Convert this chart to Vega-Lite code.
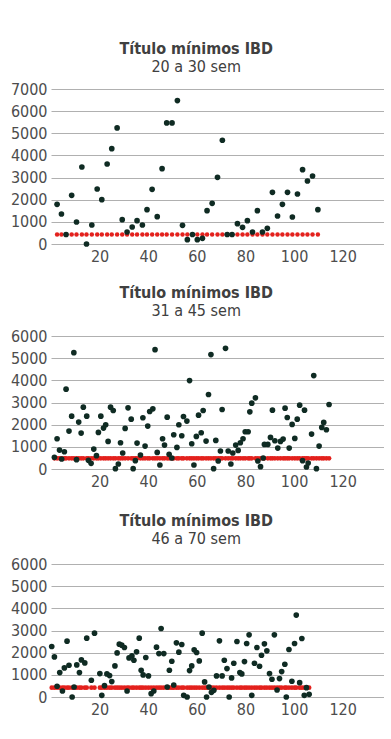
{
  "$schema": "https://vega.github.io/schema/vega-lite/v6.json",
  "padding": {"left": 10, "top": 41, "right": 0, "bottom": 0},
  "background": "#ffffff",
  "spacing": 21,
  "datasets": {
    "d1": [
      {"x":2.5,"y":1792,"m":430},{"x":4.3,"y":1355,"m":430},{"x":6.2,"y":430,"m":430},{"x":8.5,"y":2199,"m":430},{"x":10.5,"y":994,"m":430},
      {"x":12.7,"y":3479,"m":430},{"x":14.6,"y":0,"m":430},{"x":16.8,"y":858,"m":430},{"x":19,"y":2485,"m":430},{"x":20.9,"y":2003,"m":430},
      {"x":23.1,"y":3614,"m":430},{"x":25,"y":4307,"m":430},{"x":27.2,"y":5241,"m":430},{"x":29.3,"y":1099,"m":430},{"x":31.3,"y":542,"m":430},
      {"x":33.4,"y":768,"m":430},{"x":35.4,"y":1054,"m":430},{"x":37.6,"y":858,"m":430},{"x":39.5,"y":1551,"m":430},{"x":41.6,"y":2470,"m":430},
      {"x":43.7,"y":1235,"m":430},{"x":45.7,"y":3404,"m":430},{"x":47.6,"y":5467,"m":430},{"x":49.8,"y":5467,"m":430},{"x":52,"y":6476,"m":430},
      {"x":54.1,"y":843,"m":430},{"x":56.1,"y":196,"m":430},{"x":58.2,"y":430,"m":430},{"x":60.2,"y":196,"m":430},{"x":62.3,"y":256,"m":430},
      {"x":64.2,"y":1506,"m":430},{"x":66.3,"y":1837,"m":430},{"x":68.5,"y":3012,"m":430},{"x":70.5,"y":4684,"m":430},{"x":72.5,"y":430,"m":430},
      {"x":74.5,"y":430,"m":430},{"x":76.7,"y":919,"m":430},{"x":78.8,"y":753,"m":430},{"x":80.8,"y":1054,"m":430},{"x":82.9,"y":542,"m":430},
      {"x":84.9,"y":1506,"m":430},{"x":87,"y":542,"m":430},{"x":89,"y":708,"m":430},{"x":91.1,"y":2334,"m":430},{"x":93.2,"y":1265,"m":430},
      {"x":95.2,"y":1792,"m":430},{"x":97.3,"y":2334,"m":430},{"x":99.3,"y":1220,"m":430},{"x":101.4,"y":2259,"m":430},{"x":103.5,"y":3358,"m":430},
      {"x":105.5,"y":2846,"m":430},{"x":107.6,"y":3072,"m":430},{"x":109.8,"y":1551,"m":430}
    ],
    "d2": [
      {"x":1.4,"y":525,"m":480},{"x":2.5,"y":1365,"m":480},{"x":3.5,"y":855,"m":480},{"x":4.4,"y":450,"m":480},{"x":5.5,"y":780,"m":480},
      {"x":6.2,"y":3600,"m":480},{"x":7.4,"y":1710,"m":480},{"x":8.5,"y":2385,"m":480},{"x":9.4,"y":5250,"m":480},{"x":10.5,"y":420,"m":480},
      {"x":11.4,"y":2115,"m":480},{"x":12.4,"y":1620,"m":480},{"x":13.3,"y":2790,"m":480},{"x":14.7,"y":2385,"m":480},{"x":15.4,"y":390,"m":480},
      {"x":16.5,"y":255,"m":480},{"x":17.6,"y":900,"m":480},{"x":18.7,"y":600,"m":480},{"x":19.5,"y":1650,"m":480},{"x":20.5,"y":2385,"m":480},
      {"x":21.6,"y":1845,"m":480},{"x":22.5,"y":1995,"m":480},{"x":23.5,"y":1245,"m":480},{"x":24.5,"y":2790,"m":480},{"x":25.6,"y":2640,"m":480},
      {"x":26.5,"y":15,"m":480},{"x":27.7,"y":225,"m":480},{"x":28.6,"y":1185,"m":480},{"x":29.5,"y":720,"m":480},{"x":30.5,"y":1830,"m":480},
      {"x":31.7,"y":2760,"m":480},{"x":33,"y":2250,"m":480},{"x":33.8,"y":15,"m":480},{"x":34.7,"y":375,"m":480},{"x":35.4,"y":1170,"m":480},
      {"x":36.8,"y":630,"m":480},{"x":37.8,"y":2310,"m":480},{"x":38.7,"y":1035,"m":480},{"x":39.8,"y":1935,"m":480},{"x":40.6,"y":2595,"m":480},
      {"x":41.9,"y":2715,"m":480},{"x":42.8,"y":5385,"m":480},{"x":43.7,"y":750,"m":480},{"x":44.8,"y":180,"m":480},{"x":45.9,"y":1365,"m":480},
      {"x":46.7,"y":1080,"m":480},{"x":47.8,"y":2340,"m":480},{"x":48.6,"y":660,"m":480},{"x":49.7,"y":495,"m":480},{"x":50.5,"y":1545,"m":480},
      {"x":51.8,"y":975,"m":480},{"x":52.6,"y":1995,"m":480},{"x":53.8,"y":1500,"m":480},{"x":54.5,"y":2370,"m":480},{"x":55.9,"y":2160,"m":480},
      {"x":57,"y":3990,"m":480},{"x":57.9,"y":1140,"m":480},{"x":58.8,"y":180,"m":480},{"x":59.8,"y":1470,"m":480},{"x":60.7,"y":2430,"m":480},
      {"x":61.8,"y":1635,"m":480},{"x":62.6,"y":2640,"m":480},{"x":63.8,"y":1260,"m":480},{"x":64.8,"y":3360,"m":480},{"x":65.8,"y":5160,"m":480},
      {"x":66.9,"y":15,"m":480},{"x":67.8,"y":1290,"m":480},{"x":68.8,"y":360,"m":480},{"x":69.7,"y":810,"m":480},{"x":70.4,"y":2685,"m":480},
      {"x":71.8,"y":5445,"m":480},{"x":72.9,"y":810,"m":480},{"x":74,"y":225,"m":480},{"x":74.8,"y":720,"m":480},{"x":76,"y":1080,"m":480},
      {"x":77,"y":840,"m":480},{"x":77.9,"y":1185,"m":480},{"x":79,"y":1365,"m":480},{"x":79.9,"y":1680,"m":480},{"x":81.1,"y":1680,"m":480},
      {"x":81.8,"y":2580,"m":480},{"x":82.6,"y":2970,"m":480},{"x":84.1,"y":3210,"m":480},{"x":85.1,"y":360,"m":480},{"x":86.2,"y":105,"m":480},
      {"x":87.3,"y":495,"m":480},{"x":87.8,"y":1110,"m":480},{"x":89.2,"y":1110,"m":480},{"x":90.3,"y":1425,"m":480},{"x":91.1,"y":2655,"m":480},
      {"x":92.1,"y":1275,"m":480},{"x":93.3,"y":945,"m":480},{"x":94.4,"y":1245,"m":480},{"x":95.5,"y":1350,"m":480},{"x":96.3,"y":2745,"m":480},
      {"x":97.2,"y":2325,"m":480},{"x":98,"y":945,"m":480},{"x":99.2,"y":2010,"m":480},{"x":100.3,"y":1380,"m":480},{"x":101.3,"y":2250,"m":480},
      {"x":102.3,"y":2880,"m":480},{"x":103.5,"y":375,"m":480},{"x":104.3,"y":2655,"m":480},{"x":105.1,"y":90,"m":480},{"x":105.8,"y":270,"m":480},
      {"x":107.2,"y":1575,"m":480},{"x":108.1,"y":4215,"m":480},{"x":109.2,"y":15,"m":480},{"x":110.3,"y":1035,"m":480},{"x":111.4,"y":1875,"m":480},
      {"x":112.2,"y":2100,"m":480},{"x":113.3,"y":1770,"m":480},{"x":114.4,"y":2910,"m":480}
    ],
    "d3": [
      {"x":0.3,"y":2277,"m":420},{"x":1.4,"y":1810,"m":420},{"x":2.5,"y":483,"m":420},{"x":3.6,"y":1101,"m":420},{"x":4.7,"y":271,"m":420},
      {"x":5.5,"y":1312,"m":420},{"x":6.6,"y":2518,"m":420},{"x":7.4,"y":1433,"m":420},{"x":8.7,"y":0,"m":420},{"x":9.5,"y":452,"m":420},
      {"x":10.6,"y":1448,"m":420},{"x":11.7,"y":1101,"m":420},{"x":12.5,"y":1674,"m":420},{"x":13.9,"y":1538,"m":420},{"x":14.7,"y":2654,"m":420},
      {"x":16.6,"y":754,"m":420},{"x":17.9,"y":2880,"m":420},{"x":20.1,"y":1056,"m":420},{"x":20.9,"y":75,"m":420},{"x":22,"y":513,"m":420},
      {"x":23,"y":1040,"m":420},{"x":24.1,"y":965,"m":420},{"x":25,"y":694,"m":420},{"x":26.3,"y":1402,"m":420},{"x":27.2,"y":1990,"m":420},
      {"x":28.1,"y":2383,"m":420},{"x":29.1,"y":2337,"m":420},{"x":30.2,"y":2232,"m":420},{"x":31.3,"y":271,"m":420},{"x":32.1,"y":1764,"m":420},
      {"x":33.3,"y":1855,"m":420},{"x":34.1,"y":1659,"m":420},{"x":35.2,"y":2036,"m":420},{"x":36.3,"y":2654,"m":420},{"x":37.1,"y":1206,"m":420},
      {"x":37.9,"y":995,"m":420},{"x":39,"y":1780,"m":420},{"x":40.1,"y":950,"m":420},{"x":41.2,"y":151,"m":420},{"x":42.3,"y":271,"m":420},
      {"x":43.4,"y":2247,"m":420},{"x":44.4,"y":1960,"m":420},{"x":45.3,"y":3091,"m":420},{"x":46.4,"y":1960,"m":420},{"x":47.8,"y":452,"m":420},
      {"x":48.7,"y":1206,"m":420},{"x":49.7,"y":1614,"m":420},{"x":50.5,"y":543,"m":420},{"x":51.6,"y":2443,"m":420},{"x":52.6,"y":2021,"m":420},
      {"x":53.8,"y":2368,"m":420},{"x":54.6,"y":75,"m":420},{"x":56,"y":0,"m":420},{"x":57,"y":1191,"m":420},{"x":57.9,"y":1402,"m":420},
      {"x":58.9,"y":2126,"m":420},{"x":59.9,"y":2006,"m":420},{"x":61,"y":1629,"m":420},{"x":62.2,"y":2880,"m":420},{"x":63.2,"y":679,"m":420},
      {"x":64,"y":0,"m":420},{"x":65,"y":452,"m":420},{"x":66,"y":211,"m":420},{"x":67,"y":302,"m":420},{"x":68.1,"y":950,"m":420},
      {"x":69.3,"y":2533,"m":420},{"x":70.4,"y":950,"m":420},{"x":71.3,"y":1659,"m":420},{"x":72.4,"y":1282,"m":420},{"x":73.3,"y":0,"m":420},
      {"x":74.3,"y":860,"m":420},{"x":75.2,"y":1523,"m":420},{"x":76.5,"y":2503,"m":420},{"x":77.7,"y":1101,"m":420},{"x":78.5,"y":1040,"m":420},
      {"x":79.6,"y":1599,"m":420},{"x":80.5,"y":2413,"m":420},{"x":81.5,"y":2805,"m":420},{"x":82.6,"y":75,"m":420},{"x":83.7,"y":1523,"m":420},
      {"x":84.7,"y":2232,"m":420},{"x":85.8,"y":1387,"m":420},{"x":86.6,"y":1885,"m":420},{"x":87.8,"y":2398,"m":420},{"x":88.8,"y":2081,"m":420},
      {"x":89.9,"y":1056,"m":420},{"x":90.9,"y":799,"m":420},{"x":91.9,"y":2805,"m":420},{"x":93,"y":317,"m":420},{"x":94,"y":829,"m":420},
      {"x":94.9,"y":1146,"m":420},{"x":96.2,"y":1478,"m":420},{"x":96.8,"y":0,"m":420},{"x":97.9,"y":2141,"m":420},{"x":99.1,"y":709,"m":420},
      {"x":100.2,"y":2413,"m":420},{"x":100.9,"y":3695,"m":420},{"x":102.3,"y":648,"m":420},{"x":103.2,"y":2639,"m":420},{"x":104.2,"y":75,"m":420},
      {"x":105.1,"y":422,"m":420},{"x":106.2,"y":121,"m":420}
    ]
  },
  "vconcat": [
    {
      "width": 333, "height": 155,
      "data": {"name": "d1"},
      "title": {"text": "Título mínimos IBD", "subtitle": "20 a 30 sem", "offset": 6},
      "encoding": {"x": {"field": "x", "type": "quantitative", "scale": {"domain": [0, 137]}, "axis": {"values": [20,40,60,80,100,120]}}},
      "layer": [
        {"mark": {"type": "circle", "size": 20, "opacity": 1, "color": "#e3211d"},
         "encoding": {"y": {"field": "m", "type": "quantitative", "scale": {"domain": [0, 7000]}, "axis": {"values": [0,1000,2000,3000,4000,5000,6000,7000]}}}},
        {"mark": {"type": "circle", "size": 32, "opacity": 1, "color": "#0f2b23"},
         "encoding": {"y": {"field": "y", "type": "quantitative", "scale": {"domain": [0, 7000]}, "axis": {"values": [0,1000,2000,3000,4000,5000,6000,7000]}}}}
      ]
    },
    {
      "spacing": 24,
      "vconcat": [
        {
          "width": 333, "height": 133,
          "data": {"name": "d2"},
          "title": {"text": "Título mínimos IBD", "subtitle": "31 a 45 sem", "offset": 9},
          "encoding": {"x": {"field": "x", "type": "quantitative", "scale": {"domain": [0, 137]}, "axis": {"values": [20,40,60,80,100,120]}}},
          "layer": [
            {"mark": {"type": "circle", "size": 22, "opacity": 1, "color": "#e3211d"},
             "encoding": {"y": {"field": "m", "type": "quantitative", "scale": {"domain": [0, 6000]}, "axis": {"values": [0,1000,2000,3000,4000,5000,6000]}}}},
            {"mark": {"type": "circle", "size": 32, "opacity": 1, "color": "#0f2b23"},
             "encoding": {"y": {"field": "y", "type": "quantitative", "scale": {"domain": [0, 6000]}, "axis": {"values": [0,1000,2000,3000,4000,5000,6000]}}}}
          ]
        },
        {
          "width": 333, "height": 133,
          "data": {"name": "d3"},
          "title": {"text": "Título mínimos IBD", "subtitle": "46 a 70 sem", "offset": 9},
          "encoding": {"x": {"field": "x", "type": "quantitative", "scale": {"domain": [0, 137]}, "axis": {"values": [20,40,60,80,100,120]}}},
          "layer": [
            {"mark": {"type": "circle", "size": 22, "opacity": 1, "color": "#e3211d"},
             "encoding": {"y": {"field": "m", "type": "quantitative", "scale": {"domain": [0, 6000]}, "axis": {"values": [0,1000,2000,3000,4000,5000,6000]}}}},
            {"mark": {"type": "circle", "size": 32, "opacity": 1, "color": "#0f2b23"},
             "encoding": {"y": {"field": "y", "type": "quantitative", "scale": {"domain": [0, 6000]}, "axis": {"values": [0,1000,2000,3000,4000,5000,6000]}}}}
          ]
        }
      ]
    }
  ],
  "config": {
    "view": {"stroke": null},
    "font": "DejaVu Sans Condensed, Roboto, sans-serif",
    "title": {"font": "DejaVu Sans Condensed, Roboto, sans-serif", "subtitleFont": "DejaVu Sans Condensed, Roboto, sans-serif", "fontSize": 16, "subtitleFontSize": 16,
              "fontWeight": "bold", "subtitleFontWeight": "normal", "color": "#404040", "subtitleColor": "#404040",
              "anchor": "middle", "frame": "bounds", "subtitlePadding": 2, "dx": -1},
    "axis": {"title": null, "domain": false, "ticks": false, "grid": true, "gridColor": "#b0b0b0", "gridWidth": 1, "labelOverlap": false, "format": "d",
             "labelFont": "DejaVu Sans Condensed, Roboto, sans-serif", "labelFontSize": 16, "labelColor": "#4d4d4d", "labelPadding": 4},
    "axisX": {"grid": false, "labelPadding": 4},
    "axisY": {"labelPadding": 4}
  }
}
